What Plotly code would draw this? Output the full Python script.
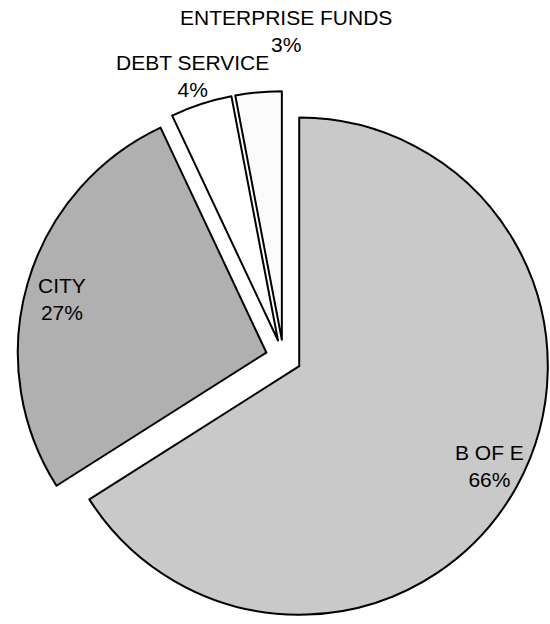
import plotly.graph_objects as go

# ---- data ----
categories = ["B OF E", "CITY", "DEBT SERVICE", "ENTERPRISE FUNDS"]
shares = [66, 27, 4, 3]

# ---- styling / layout ----
W, H = 550, 624
slice_colors = ["#c9c9c9", "#b0b0b0", "#ffffff", "#fbfbfb"]
pull_amt = 0.072
center_px = (284, 358)
radius_px = 249
# label anchor positions (pixels from top-left)
label_px = [(489, 466), (62, 299), (192, 76), (286, 31)]

half = radius_px * (1 + pull_amt)
dom_x = [max(0, (center_px[0] - half) / W), min(1, (center_px[0] + half) / W)]
dom_y = [max(0, 1 - (center_px[1] + half) / H), min(1, 1 - (center_px[1] - half) / H)]

fig = go.Figure(
    go.Pie(
        labels=categories,
        values=shares,
        sort=False,
        direction="clockwise",
        rotation=0,
        pull=[pull_amt] * len(shares),
        textinfo="none",
        marker=dict(colors=slice_colors, line=dict(color="#000000", width=2)),
        domain=dict(x=dom_x, y=dom_y),
        showlegend=False,
    )
)

for name, val, (px, py) in zip(categories, shares, label_px):
    fig.add_annotation(
        text=f"{name}<br>{val}%",
        x=px / W,
        y=1 - py / H,
        xref="paper",
        yref="paper",
        xanchor="center",
        yanchor="middle",
        showarrow=False,
        font=dict(family="Liberation Sans, Arial, sans-serif", size=21, color="#000000"),
    )

fig.update_layout(
    width=W,
    height=H,
    margin=dict(l=0, r=0, t=0, b=0),
    paper_bgcolor="#ffffff",
    plot_bgcolor="#ffffff",
)

fig.write_html("out.html")
